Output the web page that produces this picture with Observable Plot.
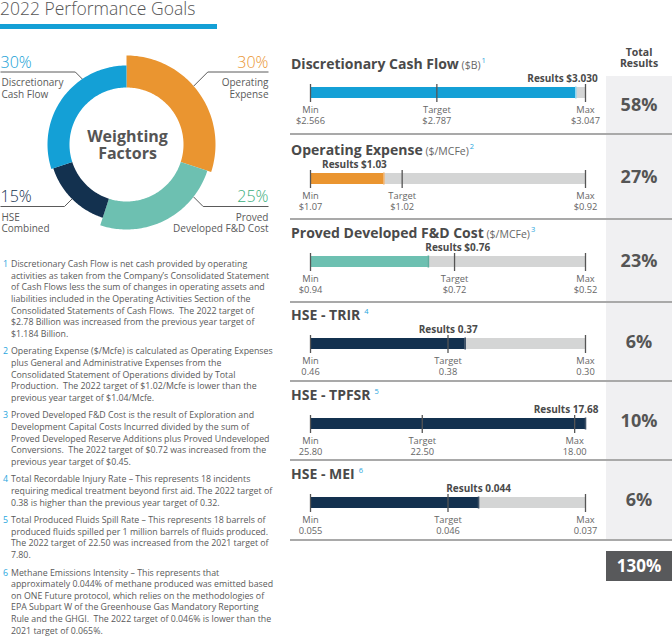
<!DOCTYPE html>
<html><head><meta charset="utf-8">
<script src="https://cdn.jsdelivr.net/npm/d3@7"></script>
<script src="https://cdn.jsdelivr.net/npm/@observablehq/plot@0.6"></script>
<style>
body{margin:0;background:#fff;font-family:"Open Sans",sans-serif;color:#555;}
#root{position:relative;width:672px;height:638px;overflow:hidden;background:#fff;}
.abs{position:absolute;white-space:pre;line-height:1;}
.abs svg{display:block;overflow:visible;}
.sup{color:#29a6de;font-weight:400;position:relative;}
</style></head><body><div id="root"></div>
<script>
// ---------- data ----------
const factorNames = ["Operating Expense", "Proved Developed F&D Cost", "HSE Combined", "Discretionary Cash Flow"];
const factorLabels = ["Operating\nExpense", "Proved\nDeveloped F&D Cost", "HSE\nCombined", "Discretionary\nCash Flow"];
const factorWeights = [30, 25, 15, 30];

const metricNames = ["Discretionary Cash Flow", "Operating Expense", "Proved Developed F&D Cost", "HSE - TRIR", "HSE - TPFSR", "HSE - MEI"];
const metricUnits = ["($B)", "($/MCFe)", "($/MCFe)", "", "", ""];
const metricNotes = ["1", "2", "3", "4", "5", "6"];
const minValues = [2.566, 1.07, 0.94, 0.46, 25.80, 0.055];
const targetValues = [2.787, 1.02, 0.72, 0.38, 22.50, 0.046];
const maxValues = [3.047, 0.92, 0.52, 0.30, 18.00, 0.037];
const resultValues = [3.030, 1.03, 0.76, 0.37, 17.68, 0.044];
const valuePrefix = ["$", "$", "$", "", "", ""];
const valueDecimals = [3, 2, 2, 2, 2, 3];
const totalResults = [58, 27, 23, 6, 10, 6];

const footnotes = [
 ["Discretionary Cash Flow is net cash provided by operating",
  "activities as taken from the Company’s Consolidated Statement",
  "of Cash Flows less the sum of changes in operating assets and",
  "liabilities included in the Operating Activities Section of the",
  "Consolidated Statements of Cash Flows.  The 2022 target of",
  "$2.78 Billion was increased from the previous year target of",
  "$1.184 Billion."],
 ["Operating Expense ($/Mcfe) is calculated as Operating Expenses",
  "plus General and Administrative Expenses from the",
  "Consolidated Statement of Operations divided by Total",
  "Production.  The 2022 target of $1.02/Mcfe is lower than the",
  "previous year target of $1.04/Mcfe."],
 ["Proved Developed F&D Cost is the result of Exploration and",
  "Development Capital Costs Incurred divided by the sum of",
  "Proved Developed Reserve Additions plus Proved Undeveloped",
  "Conversions.  The 2022 target of $0.72 was increased from the",
  "previous year target of $0.45."],
 ["Total Recordable Injury Rate – This represents 18 incidents",
  "requiring medical treatment beyond first aid. The 2022 target of",
  "0.38 is higher than the previous year target of 0.32."],
 ["Total Produced Fluids Spill Rate – This represents 18 barrels of",
  "produced fluids spilled per 1 million barrels of fluids produced.",
  "The 2022 target of 22.50 was increased from the 2021 target of",
  "7.80."],
 ["Methane Emissions Intensity – This represents that",
  "approximately 0.044% of methane produced was emitted based",
  "on ONE Future protocol, which relies on the methodologies of",
  "EPA Subpart W of the Greenhouse Gas Mandatory Reporting",
  "Rule and the GHGI.  The 2022 target of 0.046% is lower than the",
  "2021 target of 0.065%."]
];

// ---------- styles ----------
const COL = {blue: "#14a0d6", orange: "#ea9530", teal: "#6dc0b1", navy: "#13314f", green: "#3aae7c", track: "#d4d5d5", text: "#4a4a4a", gray: "#5a5a5a"};
const factorColors = [COL.orange, COL.teal, COL.navy, COL.blue];
const factorPctColors = [COL.orange, COL.green, COL.navy, COL.blue];
const DONUT = {top: 40, w: 280, h: 210, cx: 126, cy: 104, inner: 57, outer: [89, 85, 77, 79],
  leaderAngle: [49, 128, 225, 326], leaderTop: -72.5, leaderBot: 62, leftX: -126, rightX: 142};
const barColors = [COL.blue, COL.orange, COL.teal, COL.navy, COL.navy, COL.navy];
const resultTickColors = ["#8fd6f2", "#f3b46e", "#5eae9f", "#3e5268", "#3e5268", "#3e5268"];
const titleBaselines = [69, 155, 238, 320, 400, 479];
const dividerYs = [134, 219, 302, 381, 460, 540];
const cellTops = [76, 134, 219, 302, 381, 460];
const resultLabelAnchor = [["end", 22], ["end", 3], ["start", -3], ["middle", -17], ["end", 13], ["middle", 0]];

const root = document.getElementById("root");
function place(html, o) {
  const d = document.createElement("div");
  d.className = "abs";
  const fs = o.size;
  d.style.fontSize = fs + "px";
  d.style.fontWeight = o.weight || 400;
  d.style.color = o.color || COL.gray;
  if (o.lh) d.style.lineHeight = o.lh + "px";
  const lh = o.lh || fs;
  const top = o.y - ((lh - 1.362 * fs) / 2 + 1.069 * fs);
  d.style.top = top + "px";
  if (o.align === "right") { d.style.right = (672 - o.x) + "px"; d.style.textAlign = "right"; }
  else if (o.align === "center") { d.style.left = (o.x - 100) + "px"; d.style.width = "200px"; d.style.textAlign = "center"; }
  else d.style.left = o.x + "px";
  d.innerHTML = html;
  root.appendChild(d);
  return d;
}
function box(x, y, w, h, bg) {
  const d = document.createElement("div");
  d.style.cssText = `position:absolute;left:${x}px;top:${y}px;width:${w}px;height:${h}px;background:${bg};`;
  root.appendChild(d); return d;
}

// ---------- title ----------
place("2022 Performance Goals", {x: 0, y: 16, size: 17.5, weight: 300, color: "#555"});
box(0, 24, 217, 5, COL.blue);

// ---------- donut ----------
const total = d3.sum(factorWeights);
const rad = a => a * Math.PI / 180;
const arcPts = [];
let acc = 0;
factorNames.forEach((name, i) => {
  const a0 = acc / total * 360, a1 = (acc + factorWeights[i]) / total * 360;
  acc += factorWeights[i];
  const N = 80;
  for (let j = 0; j <= N; j++) { const a = a0 + (a1 - a0) * j / N; arcPts.push({i, x: DONUT.outer[i] * Math.sin(rad(a)), y: -DONUT.outer[i] * Math.cos(rad(a))}); }
  for (let j = N; j >= 0; j--) { const a = a0 + (a1 - a0) * j / N; arcPts.push({i, x: DONUT.inner * Math.sin(rad(a)), y: -DONUT.inner * Math.cos(rad(a))}); }
});
const leaderPts = [], labelRows = [];
factorNames.forEach((name, i) => {
  const a = DONUT.leaderAngle[i], r = DONUT.outer[i];
  const sx = r * Math.sin(rad(a)), sy = -r * Math.cos(rad(a));
  const side = sx > 0 ? 1 : -1;
  const ly = sy < 0 ? DONUT.leaderTop : DONUT.leaderBot;
  const ex = sx + side * Math.abs(ly - sy);
  const endX = side > 0 ? DONUT.rightX : DONUT.leftX;
  leaderPts.push({i, x: sx, y: sy}, {i, x: ex, y: ly}, {i, x: endX, y: ly});
  labelRows.push({i, side, x: side > 0 ? DONUT.rightX : DONUT.leftX + 1, px: side > 0 ? DONUT.rightX : DONUT.leftX,
    ly, pct: factorWeights[i] + "%", label: factorLabels[i], color: factorPctColors[i]});
});
const donut = Plot.plot({
  width: DONUT.w, height: DONUT.h, margin: 0,
  style: {fontFamily: "'Open Sans'", background: "transparent", overflow: "visible"},
  x: {domain: [-DONUT.cx, DONUT.w - DONUT.cx], range: [0, DONUT.w], axis: null},
  y: {domain: [-DONUT.cy, DONUT.h - DONUT.cy], range: [0, DONUT.h], axis: null},
  marks: [
    ...factorNames.map((n, i) => Plot.line(arcPts.filter(d => d.i === i), {x: "x", y: "y", fill: factorColors[i], stroke: "none", curve: "linear"})),
    Plot.line(leaderPts, {x: "x", y: "y", z: "i", stroke: "#5a5a5a", strokeWidth: 1, strokeLinecap: "butt"}),
    ...[1, -1].map(s => Plot.text(labelRows.filter(d => d.side === s), {x: "px", y: d => d.ly - 4.5, text: "pct", fill: d => d.color,
      textAnchor: s > 0 ? "end" : "start", lineAnchor: "bottom", fontSize: 16, fontWeight: 300})),
    ...[1, -1].map(s => Plot.text(labelRows.filter(d => d.side === s), {x: "x", y: d => d.ly + 25.5, text: "label", fill: "#5a5a5a",
      textAnchor: s > 0 ? "end" : "start", lineAnchor: "bottom", fontSize: 10, lineHeight: 1.15})),
    Plot.text(["Weighting\nFactors"], {x: 1, y: 14, text: d => d, lineAnchor: "bottom", fontSize: 16, fontWeight: 700, lineHeight: 1.06, fill: "#555"})
  ]
});
const dw = document.createElement("div");
dw.className = "abs"; dw.style.left = "0px"; dw.style.top = DONUT.top + "px";
dw.appendChild(donut); root.appendChild(dw);

// ---------- footnotes ----------
{
  let y = 268;
  footnotes.forEach((lines, k) => {
    lines.forEach((line, j) => {
      if (j === 0) place(String(k + 1), {x: 3, y, size: 8.8, color: "#29a6de"});
      place(line, {x: 11, y, size: 8.8, color: "#5a5a5a"});
      y += 11.6;
    });
    y += 6;
  });
}

// ---------- results column ----------
box(606, cellTops[0], 66, dividerYs[5] - cellTops[0], "#f0f0f2");
place("Total\nResults", {x: 639, y: 57, size: 10.5, weight: 700, color: COL.text, align: "center", lh: 11});
totalResults.forEach((v, i) => {
  const mid = (cellTops[i] + dividerYs[i]) / 2;
  place(v + "%", {x: 639, y: mid + 6.3, size: 18, weight: 700, color: "#555", align: "center"});
});
dividerYs.forEach(y => box(290, y - 0.75, 382, 1.5, "#a9a9a9"));
box(606, 551, 66, 30, "#58595b");
place(d3.sum(totalResults) + "%", {x: 639, y: 572, size: 17, weight: 700, color: "#fff", align: "center"});

// ---------- metric panels ----------
metricNames.forEach((name, i) => {
  const unit = metricUnits[i] ? `<span style="font-size:10.5px;font-weight:400;color:#666"> ${metricUnits[i]}</span>` : "";
  const sup = `<span class="sup" style="font-size:7.5px;top:-6px;margin-left:${metricUnits[i] ? 1 : 4}px">${metricNotes[i]}</span>`;
  place(`<span>${name}</span>${unit}${sup}`, {x: 291, y: titleBaselines[i], size: 14, weight: 700, color: COL.text});

  const mn = minValues[i], tg = targetValues[i], mx = maxValues[i], rs = resultValues[i];
  const dir = Math.sign(mx - mn);
  const end = (rs - mx) * dir > 0 ? rs : mx;
  const fmt = v => valuePrefix[i] + v.toFixed(valueDecimals[i]);
  const ticks = [{v: mn, label: "Min\n" + fmt(mn)}, {v: tg, label: "Target\n" + fmt(tg)}, {v: mx, label: "Max\n" + fmt(mx)}];
  const [anchor, dx] = resultLabelAnchor[i];
  const chart = Plot.plot({
    width: 330, height: 59, marginLeft: 30, marginRight: 25, marginTop: 18, marginBottom: 30,
    style: {fontFamily: "'Open Sans'", background: "transparent", overflow: "visible"},
    x: {domain: [mn, end], axis: null},
    marks: [
      Plot.barX([{a: mn, b: end}], {x1: "a", x2: "b", fill: COL.track}),
      Plot.barX([{a: mn, b: rs}], {x1: "a", x2: "b", fill: barColors[i]}),
      Plot.ruleX(ticks, {x: "v", stroke: "#555", strokeWidth: 1.3, insetTop: -3, insetBottom: -4}),
      Plot.ruleX([rs], {x: d => d, stroke: resultTickColors[i], strokeWidth: 1.6, insetTop: -0.5, insetBottom: -0.5}),
      Plot.text(ticks, {x: "v", text: "label", frameAnchor: "bottom", lineAnchor: "bottom", dy: 25, fontSize: 9.3, lineHeight: 1.18, fill: "#666"}),
      Plot.text([rs], {x: d => d, text: d => "Results " + fmt(d), frameAnchor: "top", lineAnchor: "bottom", dy: -6, dx,
        textAnchor: anchor, fontSize: 10, fontWeight: 700, fill: COL.text})
    ]
  });
  const w = document.createElement("div");
  w.className = "abs"; w.style.left = "280px"; w.style.top = titleBaselines[i] + "px";
  w.appendChild(chart); root.appendChild(w);
});
</script></body></html>
